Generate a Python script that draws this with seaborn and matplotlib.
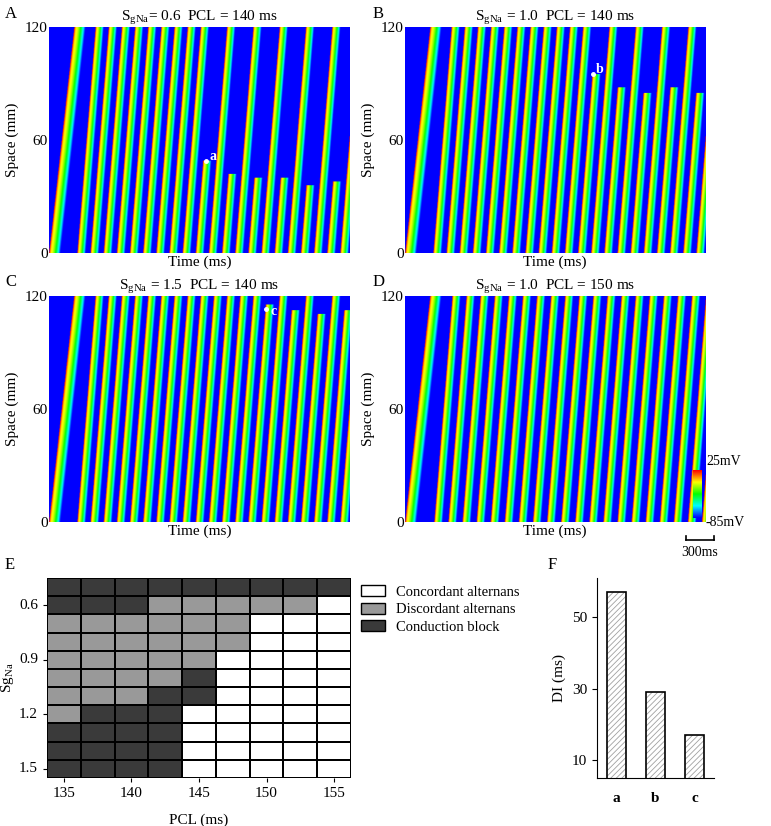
import numpy as np
import matplotlib
matplotlib.use("Agg")
import matplotlib.pyplot as plt
import seaborn as sns
from matplotlib.patches import Patch, Rectangle
from matplotlib.colors import LinearSegmentedColormap

# ---- space-time panels: wave onsets at s=0 (ms) and how far each wave gets (mm)
onsets_140 = [0, 300, 440, 580, 720, 860, 1000, 1140, 1280, 1420, 1560, 1700,
              1840, 1980, 2120, 2260, 2400, 2540, 2680, 2820, 2960, 3100]
onsets_150 = [0, 310, 460, 610, 760, 910, 1060, 1210, 1360, 1510, 1660, 1810,
              1960, 2110, 2260, 2410, 2560, 2710, 2860, 3010, 3160]
reach_a = [120] * 10 + [49, 120, 42, 120, 40, 120, 40, 120, 36, 120, 38, 120]
reach_b = [120] * 12 + [95, 120, 88, 120, 85, 120, 88, 120, 85, 120]
reach_c = [120] * 14 + [115, 120, 112, 120, 110, 120, 112, 120]
reach_d = [120] * 21
titles = [r"S$_{\mathregular{gNa}}$= 0.6  PCL = 140 ms",
          r"S$_{\mathregular{gNa}}$ = 1.0  PCL = 140 ms",
          r"S$_{\mathregular{gNa}}$ = 1.5  PCL = 140 ms",
          r"S$_{\mathregular{gNa}}$ = 1.0  PCL = 150 ms"]
marks = [("a", 1665, 49), ("b", 2000, 95), ("c", 2310, 113), None]

# ---- panel E: 0 concordant, 1 discordant, 2 block
pcl = [135, 137.5, 140, 142.5, 145, 147.5, 150, 152.5, 155]
sgna = [0.5, 0.6, 0.7, 0.8, 0.9, 1.0, 1.1, 1.2, 1.3, 1.4, 1.5]
states = [
    [2, 2, 2, 2, 2, 2, 2, 2, 2],
    [2, 2, 2, 1, 1, 1, 1, 1, 0],
    [1, 1, 1, 1, 1, 1, 0, 0, 0],
    [1, 1, 1, 1, 1, 1, 0, 0, 0],
    [1, 1, 1, 1, 1, 0, 0, 0, 0],
    [1, 1, 1, 1, 2, 0, 0, 0, 0],
    [1, 1, 1, 2, 2, 0, 0, 0, 0],
    [1, 2, 2, 2, 0, 0, 0, 0, 0],
    [2, 2, 2, 2, 0, 0, 0, 0, 0],
    [2, 2, 2, 2, 0, 0, 0, 0, 0],
    [2, 2, 2, 2, 0, 0, 0, 0, 0],
]

# ---- panel F
di_points = ["a", "b", "c"]
di_values = [57, 29, 17]

plt.rcParams.update({"font.family": "Liberation Serif", "mathtext.fontset": "stix",
                     "font.size": 11, "hatch.linewidth": 0.6})
fig = plt.figure(figsize=(7.71, 8.26), dpi=100)
vm_cmap = LinearSegmentedColormap.from_list(
    "vm", ["#0000ff", "#00ffff", "#00ff00", "#ffff00", "#ff0000"])


def fax(x0, y0, x1, y1):
    return fig.add_axes([x0 / 771, 1 - y1 / 826, (x1 - x0) / 771, (y1 - y0) / 826])


def field(onsets, reach):
    t = np.linspace(0, 3200, 700)
    s = np.linspace(0, 120, 240)
    T, S = np.meshgrid(t, s)
    V = np.full(T.shape, -85.0)
    for i, (t0, r) in enumerate(zip(onsets, reach)):
        v, apd = (0.45, 120) if i == 0 else (0.62, 88)
        p = T - (t0 + S / v)
        m = (p >= 0) & (p < apd) & (S <= r)
        q = p[m] / apd
        shape = np.where(q < 0.15, 25 - 25 * q / 0.15, -0 - 85 * ((q - 0.15) / 0.85) ** 1.5)
        V[m] = np.maximum(V[m], shape)
    return V


boxes = [(49, 27, 350, 253), (405, 27, 705, 253), (49, 296, 350, 522), (405, 296, 705, 522)]
data = [(onsets_140, reach_a), (onsets_140, reach_b), (onsets_140, reach_c), (onsets_150, reach_d)]
for box, (on, re), title, mk in zip(boxes, data, titles, marks):
    ax = fax(*box)
    ax.imshow(field(on, re), origin="lower", cmap=vm_cmap, vmin=-85, vmax=25,
              extent=[0, 3200, 0, 120], aspect="auto", interpolation="bilinear")
    ax.set_xticks([])
    ax.set_yticks([0, 60, 120])
    ax.tick_params(length=0, pad=1)
    for sp in ax.spines.values():
        sp.set_visible(False)
    ax.set_ylabel("Space (mm)")
    ax.set_xlabel("Time (ms)", labelpad=2)
    ax.set_title(title, fontsize=11, pad=2)
    if mk:
        ax.plot(mk[1], mk[2], "o", color="white", ms=2.5)
        ax.text(mk[1] + 40, mk[2] - 1, mk[0], color="white", fontweight="bold",
                fontsize=10, va="bottom" if mk[2] < 110 else "center")

# colorbar + scale bar
cax = fax(693, 470, 702, 518)
cax.imshow(np.linspace(25, -85, 100)[:, None], cmap=vm_cmap, vmin=-85, vmax=25, aspect="auto")
cax.axis("off")
fig.text(706 / 771, 1 - 462 / 826, "25mV", fontsize=10, va="center")
fig.text(706 / 771, 1 - 522 / 826, "-85mV", fontsize=10, va="center")
for xs, ys in [([686, 714], [540, 540]), ([686, 686], [536, 540]), ([714, 714], [536, 540])]:
    fig.add_artist(plt.Line2D([x / 771 for x in xs], [1 - y / 826 for y in ys],
                              color="black", lw=1.2))
fig.text(700 / 771, 1 - 553 / 826, "300ms", fontsize=10, ha="center", va="center")

# panel E
axe = fax(47, 578, 351, 778)
sns.heatmap(np.array(states), ax=axe, cmap=["#ffffff", "#999999", "#3a3a3a"],
            vmin=-0.5, vmax=2.5, cbar=False, linewidths=1.2, linecolor="black")
axe.set_xticks([0.5, 2.5, 4.5, 6.5, 8.5])
axe.set_xticklabels([f"{pcl[i]:g}" for i in [0, 2, 4, 6, 8]])
axe.set_yticks([1.5, 4.5, 7.5, 10.5])
axe.set_yticklabels([f"{sgna[i]:.1f}" for i in [1, 4, 7, 10]], rotation=0)
axe.tick_params(length=3, width=0.8)
axe.set_xlabel("PCL (ms)", labelpad=10)
axe.set_ylabel(r"Sg$_{\mathregular{Na}}$", labelpad=2)
axe.legend([Patch(fc="#ffffff", ec="black"), Patch(fc="#999999", ec="black"),
            Patch(fc="#3a3a3a", ec="black")],
           ["Concordant alternans", "Discordant alternans", "Conduction block"],
           loc="upper left", bbox_to_anchor=(1.01, 1.0), frameon=False,
           handlelength=1.6, handleheight=0.8, labelspacing=0.25, borderpad=0, fontsize=10.5)

# panel F: gray hatch inside, black outline on top
axf = fax(597, 578, 714, 778)
sns.barplot(x=di_points, y=di_values, ax=axf, color="white", edgecolor="#a0a0a0",
            linewidth=0, width=0.5, hatch="//////")
for b in list(axf.patches):
    axf.add_patch(Rectangle(b.get_xy(), b.get_width(), b.get_height(), fill=False,
                            ec="black", lw=1.2))
axf.set_ylim(5, 61)
axf.set_yticks([10, 30, 50])
axf.set_ylabel("DI (ms)")
axf.set_xlabel("")
axf.tick_params(axis="x", length=0, pad=10)
for lbl in axf.get_xticklabels():
    lbl.set_fontweight("bold")
sns.despine(ax=axf)

for letter, x, y in [("A", 5, 14), ("B", 373, 14), ("C", 5, 282), ("D", 373, 282),
                     ("E", 5, 565), ("F", 548, 565)]:
    fig.text(x / 771, 1 - y / 826, letter, fontsize=12, va="center")

fig.savefig("out.png", dpi=100)
